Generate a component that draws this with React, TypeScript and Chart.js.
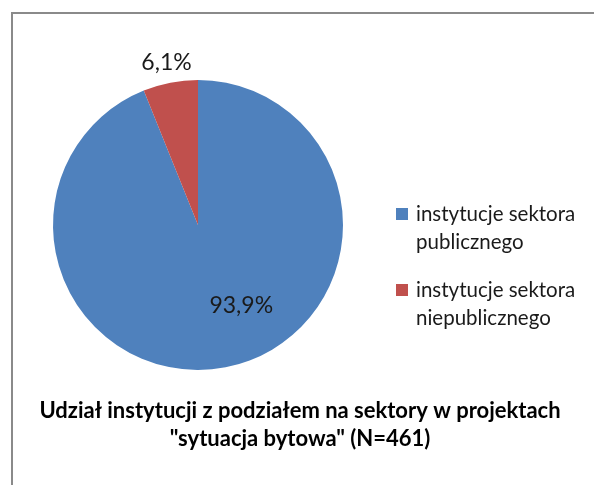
import React, { useEffect, useRef } from "react";
import { Chart, registerables } from "chart.js";

Chart.register(...registerables);

const categories = ["instytucje sektora publicznego", "instytucje sektora niepublicznego"];
const legendLines = [
  ["instytucje sektora", "publicznego"],
  ["instytucje sektora", "niepublicznego"],
];
const values = [93.9, 6.1];
const valueLabels = ["93,9%", "6,1%"];
const colors = ["#4F81BD", "#C0504D"];
const titleLines = [
  "Udział instytucji z podziałem na sektory w projektach",
  "\"sytuacja bytowa\" (N=461)",
];

// label placement relative to each arc: angle offset (deg) from mid-angle, radius factor
const labelPlacement = [
  { angleOffset: -17.3, radiusFactor: 0.63 },
  { angleOffset: 0, radiusFactor: 1.14 },
];

const textColor = "#1a1a1a";

const overlayPlugin = {
  id: "overlay",
  afterDatasetsDraw(chart: any) {
    const ctx = chart.ctx;
    const meta = chart.getDatasetMeta(0);
    ctx.save();
    ctx.fillStyle = textColor;
    ctx.font = "23px Lato";
    ctx.textAlign = "center";
    ctx.textBaseline = "middle";
    meta.data.forEach((arc: any, i: number) => {
      const p = arc.getProps(["x", "y", "startAngle", "endAngle", "outerRadius"], true);
      const mid = (p.startAngle + p.endAngle) / 2 + (labelPlacement[i].angleOffset * Math.PI) / 180;
      const r = p.outerRadius * labelPlacement[i].radiusFactor;
      ctx.fillText(valueLabels[i], p.x + Math.cos(mid) * r, p.y + Math.sin(mid) * r);
    });
    ctx.restore();
  },
  afterDraw(chart: any) {
    const ctx = chart.ctx;
    ctx.save();
    // legend
    const lx = 396;
    const ly = 214;
    const itemGap = 76;
    const lineH = 28;
    ctx.font = "20.5px Lato";
    ctx.textAlign = "left";
    ctx.textBaseline = "middle";
    legendLines.forEach((lines, i) => {
      const y = ly + i * itemGap;
      ctx.fillStyle = colors[i];
      ctx.fillRect(lx, y - 6, 12, 12);
      ctx.fillStyle = textColor;
      lines.forEach((t, j) => ctx.fillText(t, lx + 20, y + j * lineH));
    });
    // title
    ctx.font = "bold 22px Lato";
    ctx.textAlign = "center";
    ctx.fillStyle = "#000000";
    titleLines.forEach((t, j) => ctx.fillText(t, 300, 411 + j * 28));
    ctx.restore();
  },
};

export default function App() {
  const canvasRef = useRef<HTMLCanvasElement | null>(null);

  useEffect(() => {
    document.body.style.margin = "0";
    const canvas = canvasRef.current;
    if (!canvas) return;
    const chart = new Chart(canvas, {
      type: "pie",
      data: {
        labels: categories,
        datasets: [
          {
            data: values,
            backgroundColor: colors,
            borderWidth: 0,
          },
        ],
      },
      options: {
        animation: false,
        responsive: false,
        maintainAspectRatio: false,
        layout: { padding: { left: 53, right: 251, top: 80, bottom: 115 } },
        plugins: {
          legend: { display: false },
          tooltip: { enabled: false },
          title: { display: false },
        },
      },
      plugins: [overlayPlugin],
    });
    if ((document as any).fonts) {
      (document as any).fonts.load("20px Lato").then(() => chart.update());
      (document as any).fonts.load("bold 22px Lato").then(() => chart.update());
    }
    return () => chart.destroy();
  }, []);

  return (
    <div style={{ position: "relative", width: 594, height: 485, overflow: "hidden", background: "#ffffff" }}>
      <div
        style={{
          position: "absolute",
          left: 11,
          top: 12,
          width: 600,
          height: 500,
          border: "2px solid #8a8a8a",
          boxSizing: "border-box",
        }}
      />
      <canvas ref={canvasRef} width={594} height={485} style={{ position: "absolute", left: 0, top: 0 }} />
    </div>
  );
}
